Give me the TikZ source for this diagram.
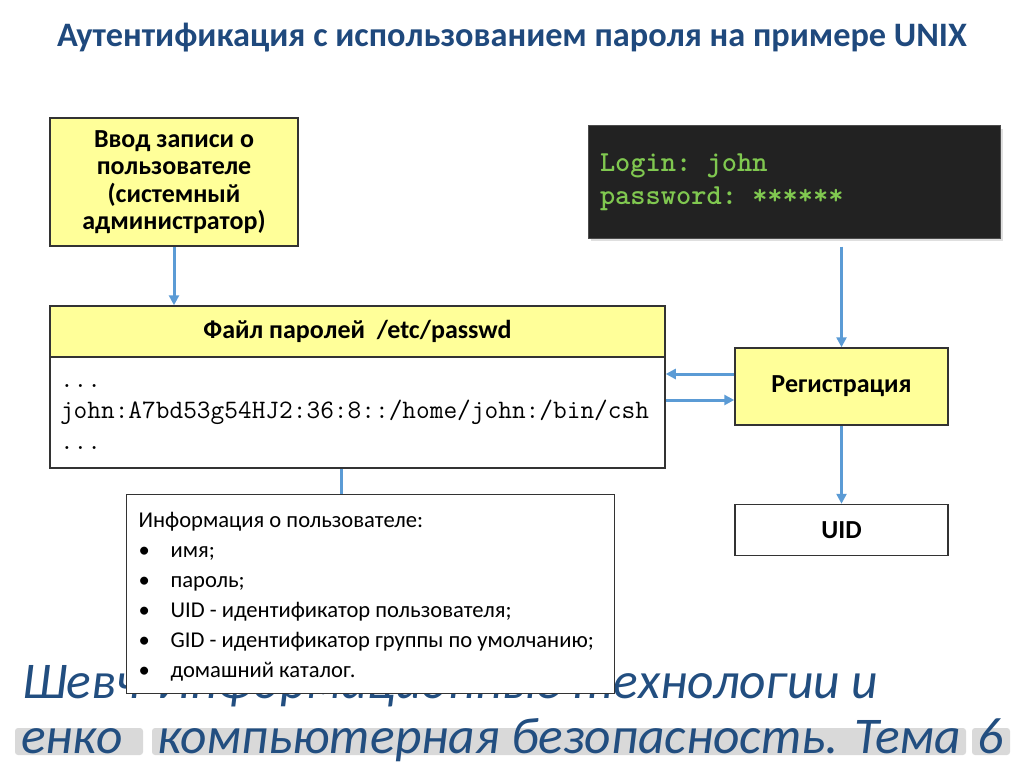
\documentclass[tikz,border=0pt]{standalone}
\usepackage{fontspec}
\setmainfont{Carlito}
\usetikzlibrary{arrows.meta}
\usetikzlibrary{calc}
\usetikzlibrary{positioning}
\usetikzlibrary{shadows}
\definecolor{titleblue}{RGB}{31,73,125}
\definecolor{footblue}{RGB}{34,78,128}
\definecolor{boxyellow}{RGB}{255,255,153}
\definecolor{linkblue}{RGB}{91,155,213}
\definecolor{termbg}{RGB}{34,34,34}
\definecolor{termgreen}{RGB}{128,200,80}
\definecolor{hlgray}{RGB}{217,217,217}
\tikzset{
	>={Triangle[length=10pt,width=10pt]},
	yellowbox/.style={
		rectangle,
		fill=boxyellow,
		draw=black!80, line width=1.5pt,
		font=\bfseries\fontsize{26}{27.5}\selectfont,
		align=center},
	whitebox/.style={
		rectangle,
		fill=white,
		draw=black!80, line width=1.5pt},
	link/.style={draw=linkblue, line width=3pt, ->},
	foot/.style={anchor=base west, inner sep=0pt, text=footblue,
		font=\itshape\fontsize{51.5}{53}\selectfont},
	hilite/.style={fill=hlgray, rounded corners=3pt},
}
\begin{document}
\begin{tikzpicture}[x=1pt,y=-1pt]
	\useasboundingbox (0,0) rectangle (1024,767);
	\node[font=\bfseries\fontsize{34.3}{38}\selectfont, text=titleblue] (title) at (512,38)
		{Аутентификация с использованием пароля на примере UNIX};
	
	\node[yellowbox, minimum width=248pt, minimum height=128pt] (intro) at (174,182)
		{Ввод записи о\\пользователе\\(системный\\администратор)};
	\node[yellowbox, minimum width=615pt, minimum height=51pt] (head) at (357.5,331.5)
		{Файл паролей\ \ /etc/passwd};
	\node[whitebox, below=-1.5pt of head, minimum width=615pt, minimum height=111pt,
		inner xsep=10pt, text width=595pt, align=flush left,
		font=\ttfamily\frenchspacing\fontsize{26.6}{31}\selectfont] (body)
		{\strut...\\john:A7bd53g54HJ2:36:8::/home/john:/bin/csh\\...\strut};
	
	\node[rectangle, fill=termbg, draw=black!70, line width=1pt,
		drop shadow={shadow xshift=3pt, shadow yshift=-3pt, fill=black!25},
		minimum width=412pt, minimum height=112pt, inner xsep=12pt, text width=388pt, align=flush left,
		text=termgreen, font=\ttfamily\bfseries\frenchspacing\fontsize{29}{33}\selectfont] (term) at (794,182)
		{Login: john\\password: ******};
	\node[yellowbox, minimum width=213pt, minimum height=77pt] (reg) at (841.5,386.5) {Регистрация};
	\node[whitebox, below=78pt of reg, minimum width=213pt, minimum height=51pt,
		font=\bfseries\fontsize{26}{27.5}\selectfont] (uid) {UID};
	
	% footer
	\fill[hilite] (15,728) rectangle (143,755);
	\fill[hilite] (152,728) rectangle (966,755);
	\fill[hilite] (972,728) rectangle (1010,755);
	\node[foot] (sur1) at (22,698) {Шевч};
	\node[foot] (theme1) at (157,698) {Информационные технологии и};
	\node[foot] (sur2) at (21,753) {енко};
	\node[foot] (theme2) at (157,753) {компьютерная безопасность. Тема};
	\node[foot] (num) at (977,753) {6};
	
	\node[whitebox, line width=1.2pt, anchor=north west, minimum width=488pt, minimum height=199pt,
		inner xsep=12pt, text width=464pt, align=flush left,
		font=\fontsize{22.6}{30}\selectfont] (info) at (126,494)
		{\rule{0pt}{25pt}Информация о пользователе:\\
		\makebox[32pt][l]{\textbullet}имя;\\
		\makebox[32pt][l]{\textbullet}пароль;\\
		\makebox[32pt][l]{\textbullet}UID - идентификатор пользователя;\\
		\makebox[32pt][l]{\textbullet}GID - идентификатор группы по умолчанию;\\
		\makebox[32pt][l]{\textbullet}домашний каталог.\rule[-9pt]{0pt}{9pt}};
	
	\draw[link] (intro.south) -- (intro.south |- head.north);
	\draw[link] ([yshift=-8pt]term.south -| reg.north) -- (reg.north);
	\draw[link] ([yshift=12.5pt]reg.west) -- ([yshift=12.5pt]reg.west -| body.east);
	\draw[link] ([yshift=-13.5pt]reg.west -| body.east) -- ([yshift=-13.5pt]reg.west);
	\draw[link] (reg.south) -- (uid.north);
	\draw[link, -] ([xshift=-16.5pt]body.south) -- ([xshift=-16.5pt]body.south |- info.north);
\end{tikzpicture}
\end{document}
